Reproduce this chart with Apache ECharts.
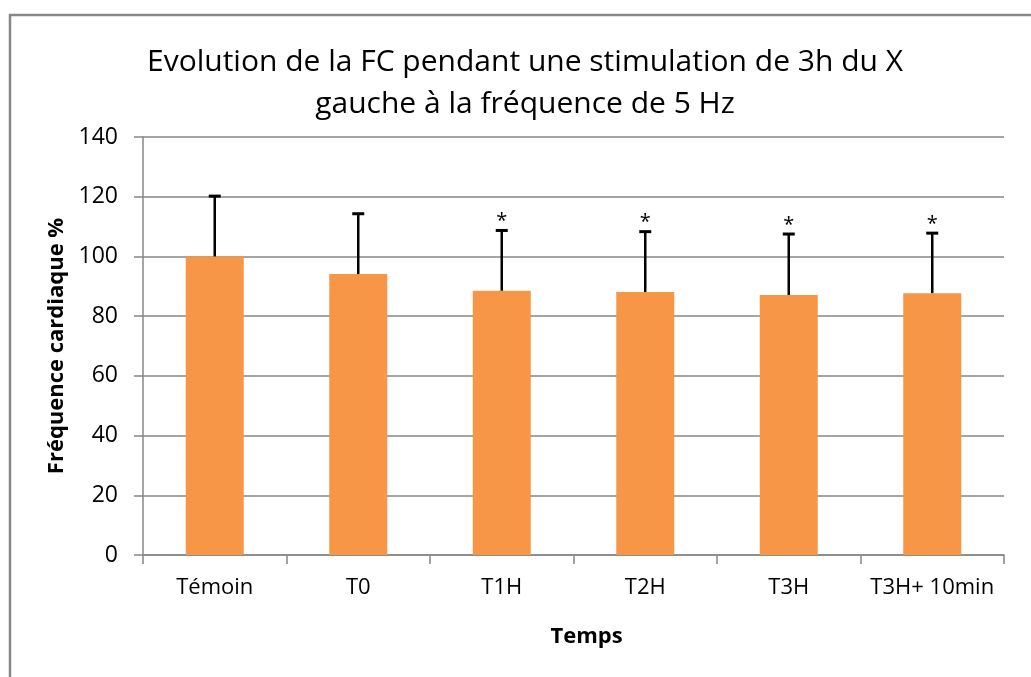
<!DOCTYPE html>
<html>
<head>
<meta charset="utf-8">
<title>Evolution de la FC</title>
<script src="https://cdn.jsdelivr.net/npm/echarts@6/dist/echarts.min.js"></script>
<style>
  html, body { margin: 0; padding: 0; background: #fff; }
  #chart { width: 1031px; height: 677px; }
</style>
</head>
<body>
<div id="chart"></div>
<script>
// données
var categories = ["Témoin", "T0", "T1H", "T2H", "T3H", "T3H+ 10min"];
var means = [100, 94.1, 88.5, 88.1, 87.1, 87.7];
var errors = [20.2, 20.2, 20.2, 20.2, 20.4, 20.1];
var signif = ["", "", "*", "*", "*", "*"];
var yTicks = [0, 20, 40, 60, 80, 100, 120, 140];

(function () {
  var myChart = echarts.init(document.getElementById("chart"));
  var font = "'Open Sans', 'Noto Sans', sans-serif";
  var grey = "#878787";

  var errData = means.map(function (m, i) {
    return [i, m, errors[i]];
  });

  var option = {
    animation: false,
    backgroundColor: "#fff",
    textStyle: { fontFamily: font },
    title: {
      text: "Evolution de la FC pendant une stimulation de 3h du X\ngauche à la fréquence de 5 Hz",
      left: 520,
      top: 36,
      textAlign: "center",
      textStyle: {
        fontFamily: font,
        fontWeight: "normal",
        fontSize: 30,
        lineHeight: 42,
        color: "#000"
      }
    },
    // cadre gris (haut et gauche visibles)
    graphic: [
      {
        type: "rect",
        shape: { x: 10, y: 15, width: 1200, height: 900 },
        style: { fill: "none", stroke: grey, lineWidth: 2.5 },
        silent: true
      }
    ],
    grid: {
      left: 143,
      right: 27,
      top: 137,
      bottom: 122
    },
    xAxis: {
      type: "category",
      data: categories,
      name: "Temps",
      nameLocation: "middle",
      nameGap: 71,
      nameTextStyle: {
        fontFamily: font,
        fontWeight: "bold",
        fontSize: 22,
        color: "#000",
        padding: [0, 0, 0, 26]
      },
      axisLine: { lineStyle: { color: grey, width: 1.5 } },
      axisTick: { show: true, interval: 0, length: 9, lineStyle: { color: grey, width: 1.5 } },
      axisLabel: {
        color: "#000",
        fontSize: 22,
        margin: 22,
        fontFamily: font,
        interval: 0,
        hideOverlap: false
      }
    },
    yAxis: {
      type: "value",
      min: yTicks[0],
      max: yTicks[yTicks.length - 1],
      interval: 20,
      name: "Fréquence cardiaque %",
      nameLocation: "middle",
      nameGap: 72,
      nameTextStyle: { fontFamily: font, fontWeight: "bold", fontSize: 22, color: "#000" },
      axisLine: { show: true, lineStyle: { color: grey, width: 1.5 } },
      axisTick: { show: true, length: 9, lineStyle: { color: grey, width: 1.5 } },
      axisLabel: { color: "#000", fontSize: 23, margin: 25, fontFamily: font },
      splitLine: { lineStyle: { color: grey, width: 1.5 } }
    },
    series: [
      {
        name: "FC",
        type: "bar",
        data: means,
        barWidth: 58,
        itemStyle: { color: "#F79646" }
      },
      {
        // barres d'erreur (vers le haut) + astérisques
        name: "SD",
        type: "custom",
        data: errData,
        z: 10,
        renderItem: function (params, api) {
          var x = api.value(0);
          var m = api.value(1);
          var e = api.value(2);
          var p0 = api.coord([x, m]);
          var p1 = api.coord([x, m + e]);
          var children = [
            {
              type: "line",
              shape: { x1: p0[0], y1: p0[1], x2: p1[0], y2: p1[1] },
              style: { stroke: "#000", lineWidth: 2.5 }
            },
            {
              type: "line",
              shape: { x1: p1[0] - 6, y1: p1[1], x2: p1[0] + 6, y2: p1[1] },
              style: { stroke: "#000", lineWidth: 3 }
            }
          ];
          if (signif[params.dataIndex]) {
            children.push({
              type: "text",
              style: {
                text: signif[params.dataIndex],
                x: p1[0],
                y: p1[1] + 1,
                align: "center",
                verticalAlign: "bottom",
                font: "20px " + font,
                fill: "#000"
              }
            });
          }
          return { type: "group", children: children };
        }
      }
    ]
  };

  myChart.setOption(option);

  window.addEventListener("resize", function () {
    myChart.resize();
  });
})();
</script>
</body>
</html>
